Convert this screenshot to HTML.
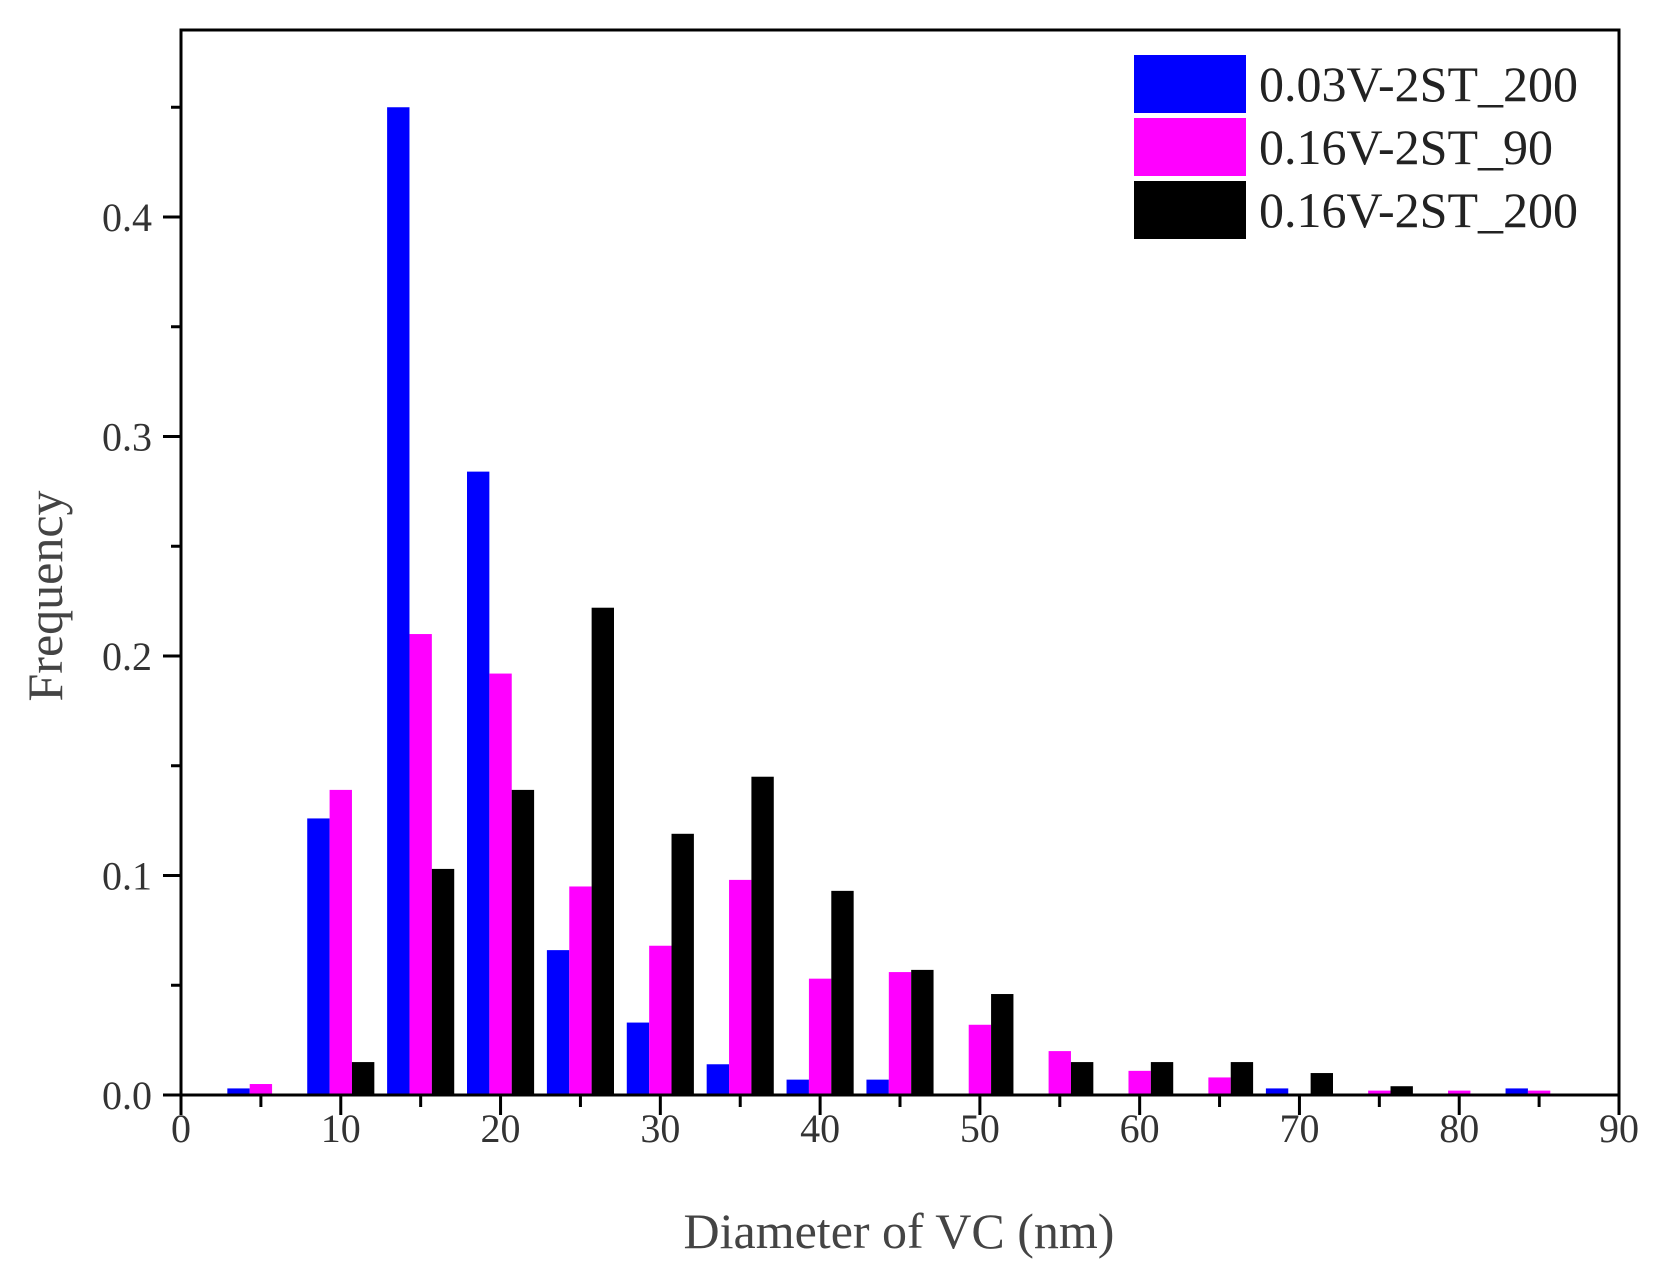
<!DOCTYPE html>
<html><head><meta charset="utf-8"><style>
html,body{margin:0;padding:0;background:#fff;}
svg{display:block;font-family:"Liberation Serif",serif;}
</style></head><body>
<svg id="chart" width="1659" height="1266" viewBox="0 0 1659 1266"></svg>
<script>
const categories=[5,10,15,20,25,30,35,40,45,50,55,60,65,70,75,80,85];
const seriesA=[0.003,0.126,0.450,0.284,0.066,0.033,0.014,0.007,0.007,0,0,0,0,0.003,0,0,0.003];
const seriesB=[0.005,0.139,0.210,0.192,0.095,0.068,0.098,0.053,0.056,0.032,0.020,0.011,0.008,0,0.002,0.002,0.002];
const seriesC=[0,0.015,0.103,0.139,0.222,0.119,0.145,0.093,0.057,0.046,0.015,0.015,0.015,0.010,0.004,0,0];
const seriesNames=["0.03V-2ST_200","0.16V-2ST_90","0.16V-2ST_200"];
const xTicks=[0,10,20,30,40,50,60,70,80,90];
const yTicks=[0.0,0.1,0.2,0.3,0.4];

const NS="http://www.w3.org/2000/svg";
const svg=document.getElementById('chart');
const L=181,R=1619,B=1095,T=30;
const sx=v=>L+v*(R-L)/90;
const sy=v=>B-v*2195;
function el(tag,attrs,parent){const e=document.createElementNS(NS,tag);for(const k in attrs)e.setAttribute(k,attrs[k]);(parent||svg).appendChild(e);return e;}

const colors=["#0000ff","#ff00ff","#000000"];
const all=[seriesA,seriesB,seriesC];
const bw=1.4;
all.forEach((s,si)=>{
  const g=el('g',{});
  
  
  s.forEach((v,i)=>{
    const c=categories[i]+(si-1)*bw;
    const x0=sx(c-bw/2),x1=sx(c+bw/2);
    const r=el('rect',{x:x0,y:sy(v),width:x1-x0,height:B-sy(v),fill:colors[si]},g);
    
    
  });
});

const fr=el('rect',{x:L,y:T,width:R-L,height:B-T,fill:'none',stroke:'#000','stroke-width':3});



for(let v=0;v<=90;v+=5){
  const major=v%10===0;
  el('line',{x1:sx(v),x2:sx(v),y1:B,y2:B+(major?20:12),stroke:'#000','stroke-width':3});
}
xTicks.forEach(v=>{
  const t=el('text',{x:sx(v),y:1142,'text-anchor':'middle','font-size':40,fill:'#333'});
  t.textContent=v;
  
  
});
for(let k=0;k<=9;k++){
  const v=k*0.05;const major=k%2===0;
  el('line',{x1:L,x2:L-(major?18:10),y1:sy(v),y2:sy(v),stroke:'#000','stroke-width':3});
}
yTicks.forEach(v=>{
  const t=el('text',{x:152,y:sy(v)+14,'text-anchor':'end','font-size':40,fill:'#333'});
  t.textContent=v.toFixed(1);
  
  
});
const xt=el('text',{x:899,y:1248,'text-anchor':'middle','font-size':50,fill:'#444'});
xt.textContent='Diameter of VC (nm)';


const yt=el('text',{x:0,y:0,'text-anchor':'middle','font-size':50,fill:'#444',transform:'translate(62,596) rotate(-90)'});
yt.textContent='Frequency';



const ly=[55,118,181];
seriesNames.forEach((n,i)=>{
  const g=el('g',{});
  
  
  el('rect',{x:1134,y:ly[i],width:112,height:58,fill:colors[i]},g);
  const t=el('text',{x:1259,y:ly[i]+46,'font-size':50,fill:'#222'},g);
  t.textContent=n;
});
</script>
</body></html>
